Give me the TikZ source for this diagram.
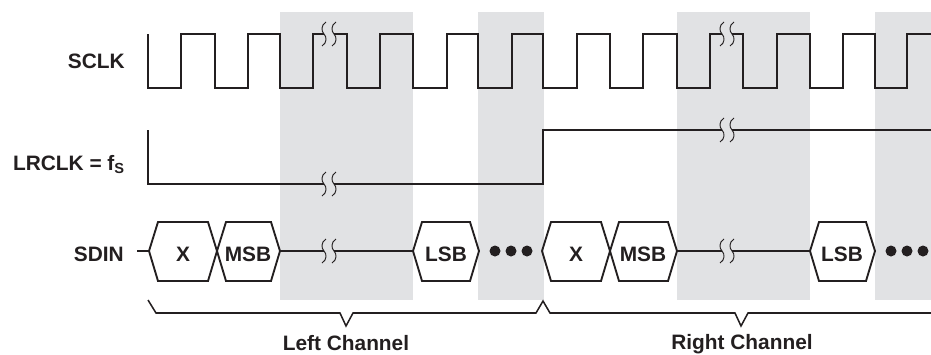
\documentclass[tikz,border=0pt]{standalone}
\usepackage{fontspec}
\setmainfont{Liberation Sans}
\usepackage{tikz}

\definecolor{waveblack}{RGB}{35,31,32}
\definecolor{slotgray}{RGB}{225,226,228}

\begin{document}
\begin{tikzpicture}[x=0.3mm, y=-0.3mm,
  every node/.style={font=\fontsize{17.8}{21}\selectfont\bfseries, text=waveblack, inner sep=0pt},
  clkline/.style={line width=1.8pt, waveblack},
  lrline/.style={line width=1.5pt, waveblack},
  hexline/.style={line width=1.6pt, waveblack},
  braceline/.style={line width=1.3pt, waveblack},
  breakline/.style={line width=0.8pt, waveblack}]

\useasboundingbox (0,0) rectangle (931,354);

% shaded bit slots
\fill[slotgray] (280,12) rectangle (413,300);
\fill[slotgray] (478,12) rectangle (544,300);
\fill[slotgray] (677,12) rectangle (810,300);
\fill[slotgray] (875,12) rectangle (931,300);

% signal names
\node[anchor=base east] (sclk) at (125,68) {SCLK};
\node[anchor=base east] (lrclk) at (125,170) {LRCLK = f\textsubscript{S}};
\node[anchor=base east] (sdin) at (124,261) {SDIN};

% SCLK
\draw[clkline] (148,34) -- (148,88) -- (181,88) -- (181,34) -- (215,34) -- (215,88) -- (248,88) -- (248,34) -- (280,34) -- (280,88) -- (313,88) -- (313,34) -- (324,34);
\draw[clkline] (334,34) -- (347,34) -- (347,88) -- (380,88) -- (380,34) -- (413,34) -- (413,88) -- (447,88) -- (447,34) -- (478,34) -- (478,88) -- (512,88) -- (512,34) -- (543,34) -- (543,88) -- (577,88) -- (577,34) -- (610,34) -- (610,88) -- (643,88) -- (643,34) -- (677,34) -- (677,88) -- (710,88) -- (710,34) -- (722,34);
\draw[clkline] (732,34) -- (743,34) -- (743,88) -- (777,88) -- (777,34) -- (810,34) -- (810,88) -- (843,88) -- (843,34) -- (875,34) -- (875,88) -- (907,88) -- (907,34) -- (931,34);

% LRCLK
\draw[lrline] (148,130) -- (148,184) -- (324,184);
\draw[lrline] (334,184) -- (543,184) -- (543,130) -- (722,130);
\draw[lrline] (732,130) -- (931,130);

% SDIN
\draw[lrline] (137,251) -- (149,251);
\draw[hexline] (149,251) -- (158,222) -- (208,222) -- (217,251) -- (208,281) -- (158,281) -- cycle;
\draw[hexline] (217,251) -- (226,222) -- (271,222) -- (280,251) -- (271,281) -- (226,281) -- cycle;
\draw[lrline] (280,251) -- (324,251);
\draw[lrline] (334,251) -- (413,251);
\draw[hexline] (413,251) -- (422,222) -- (470,222) -- (479,251) -- (470,281) -- (422,281) -- cycle;
\draw[hexline] (542,251) -- (551,222) -- (601,222) -- (610,251) -- (601,281) -- (551,281) -- cycle;
\draw[hexline] (610,251) -- (619,222) -- (668,222) -- (677,251) -- (668,281) -- (619,281) -- cycle;
\draw[lrline] (677,251) -- (722,251);
\draw[lrline] (732,251) -- (810,251);
\draw[hexline] (810,251) -- (819,222) -- (866,222) -- (875,251) -- (866,281) -- (819,281) -- cycle;

\node[anchor=base] (xl) at (183,261) {X};
\node[anchor=base] (msbl) at (248,261) {MSB};
\node[anchor=base] (lsbl) at (446,261) {LSB};
\node[anchor=base] (xr) at (576,261) {X};
\node[anchor=base] (msbr) at (643,261) {MSB};
\node[anchor=base] (lsbr) at (842,261) {LSB};

\fill[waveblack] (495,251) circle (5.5);
\fill[waveblack] (511,251) circle (5.5);
\fill[waveblack] (527,251) circle (5.5);
\fill[waveblack] (891,251) circle (5.5);
\fill[waveblack] (907,251) circle (5.5);
\fill[waveblack] (923,251) circle (5.5);

% break marks
\foreach \bx/\by in {324/34, 334/34, 324/184, 334/184, 324/251, 334/251, 722/34, 732/34, 722/130, 732/130, 722/251, 732/251}
  \draw[breakline, shift={(\bx,\by)}] (2,-12) .. controls (-3,-9) and (-3,-3) .. (0,0) .. controls (3,3) and (3,9) .. (-2,12);

% channel braces
\draw[braceline] (148,300) -- (156,313) -- (340,313) -- (346,326) -- (353,313) -- (536,313) -- (543,301) -- (550,313) -- (735,313) -- (741,326) -- (748,313) -- (931,313);

\node[anchor=base] (leftch) at (346,350) {Left Channel};
\node[anchor=base] (rightch) at (742,349) {Right Channel};

\end{tikzpicture}
\end{document}
